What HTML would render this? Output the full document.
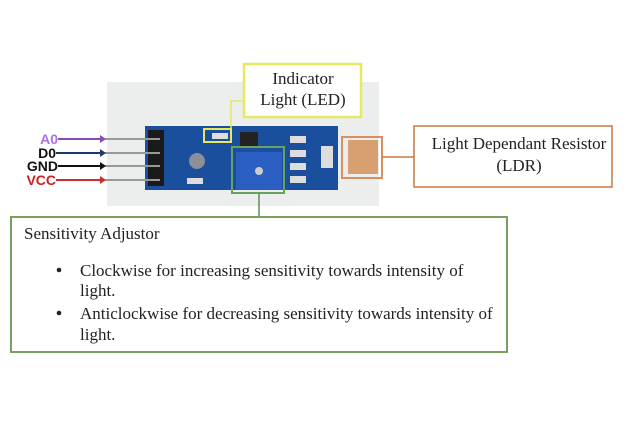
<!DOCTYPE html>
<html><head><style>
body{margin:0;width:640px;height:439px;background:#fff;position:relative;overflow:hidden;font-family:"Liberation Serif",serif;}
.a{position:absolute;}
</style></head><body>
<svg class="a" style="left:0;top:0" width="640" height="439">
<rect x="107" y="82" width="272" height="124" fill="#eceded"/>
<rect x="145" y="126" width="193" height="64" fill="#1a4f9e"/>
<rect x="148" y="130" width="16" height="56" fill="#1a1a1a"/>
<g stroke="#999" stroke-width="2">
<line x1="105" y1="139" x2="160" y2="139"/><line x1="105" y1="153" x2="160" y2="153"/>
<line x1="105" y1="166" x2="160" y2="166"/><line x1="105" y1="180" x2="160" y2="180"/></g>
<circle cx="197" cy="161" r="8" fill="#8a8f99"/>
<rect x="212" y="133" width="16" height="6" fill="#ddd"/>
<rect x="240" y="132" width="18" height="14" fill="#222"/>
<rect x="236" y="152" width="46" height="38" fill="#2a5ec0"/>
<circle cx="259" cy="171" r="4" fill="#ccc"/>
<rect x="187" y="178" width="16" height="6" fill="#ddd"/>
<g fill="#ddd"><rect x="290" y="136" width="16" height="7"/><rect x="290" y="150" width="16" height="7"/><rect x="290" y="163" width="16" height="7"/><rect x="290" y="176" width="16" height="7"/></g>
<rect x="348" y="140" width="30" height="34" fill="#d8a070"/>
<rect x="321" y="146" width="12" height="22" fill="#ddd"/>
<rect x="204" y="129" width="27" height="13" fill="none" stroke="#e8e860" stroke-width="2"/>
<rect x="244" y="64" width="117" height="53" fill="#fff" stroke="#e8e860" stroke-width="2.5"/>
<polyline points="231,135 231,101 244,101" fill="none" stroke="#e8e860" stroke-width="1.5"/>
<rect x="342" y="137" width="40" height="41" fill="none" stroke="#d89060" stroke-width="2"/>
<line x1="382" y1="157" x2="414" y2="157" stroke="#c87840" stroke-width="1.5"/>
<rect x="414" y="126" width="198" height="61" fill="#fff" stroke="#c87840" stroke-width="1.5"/>
<rect x="232" y="147" width="52" height="46" fill="none" stroke="#6aa060" stroke-width="2"/>
<line x1="259" y1="193" x2="259" y2="217" stroke="#5a9050" stroke-width="1.5"/>
<rect x="11" y="217" width="496" height="135" fill="#fff" stroke="#7aa060" stroke-width="2"/>
<g stroke-width="2">
<line x1="58" y1="139" x2="100" y2="139" stroke="#8a4ab8"/><polygon points="100,135 106,139 100,143" fill="#8a4ab8"/>
<line x1="56" y1="153" x2="100" y2="153" stroke="#1a3a6a"/><polygon points="100,149 106,153 100,157" fill="#1a3a6a"/>
<line x1="58" y1="166" x2="100" y2="166" stroke="#111"/><polygon points="100,162 106,166 100,170" fill="#111"/>
<line x1="56" y1="180" x2="100" y2="180" stroke="#c83030"/><polygon points="100,176 106,180 100,184" fill="#c83030"/></g>
<g font-family="Liberation Sans,sans-serif" font-weight="bold" font-size="14" text-anchor="end">
<text x="58" y="144" fill="#b070e0">A0</text><text x="56" y="158" fill="#111">D0</text>
<text x="58" y="171" fill="#111">GND</text><text x="56" y="185" fill="#d02020">VCC</text></g>
<g font-family="Liberation Serif,serif" font-size="17" fill="#222" text-anchor="middle">
<text x="303" y="84">Indicator</text><text x="303" y="105">Light (LED)</text>
<text x="519" y="149">Light Dependant Resistor</text><text x="519" y="171">(LDR)</text></g>
<g font-family="Liberation Serif,serif" font-size="17" fill="#222">
<text x="24" y="239">Sensitivity Adjustor</text>
<circle cx="59" cy="270" r="2.3"/><text x="80" y="276">Clockwise for increasing sensitivity towards intensity of</text>
<text x="80" y="296">light.</text>
<circle cx="59" cy="313" r="2.3"/><text x="80" y="319">Anticlockwise for decreasing sensitivity towards intensity of</text>
<text x="80" y="340">light.</text></g>
</svg>
</body></html>
